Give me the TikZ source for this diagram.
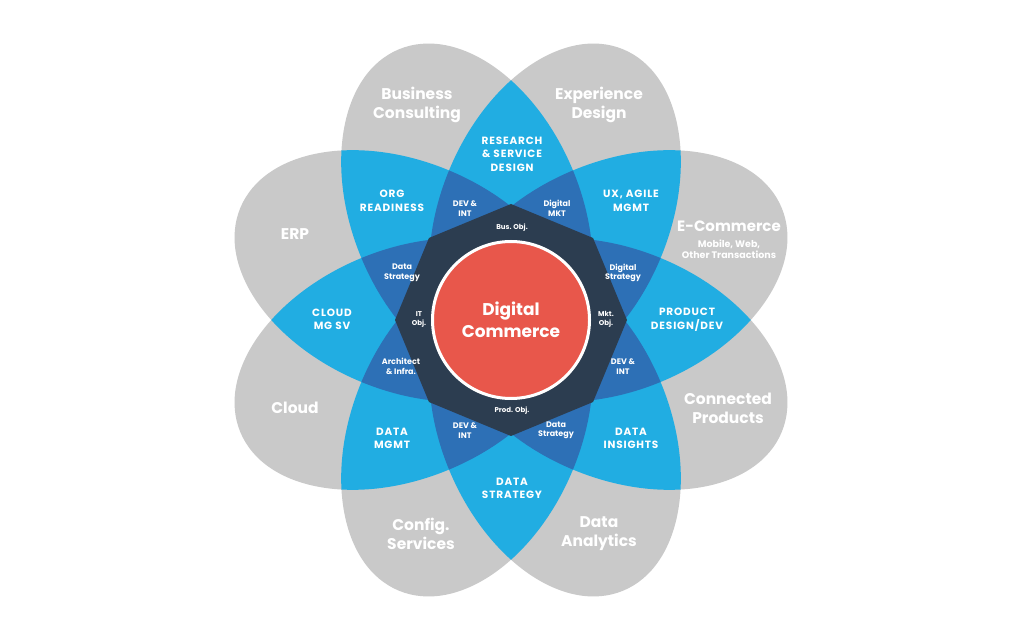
\documentclass[tikz,border=0pt]{standalone}
\usepackage{fontspec}
\setmainfont{Poppins}
\definecolor{greyc}{HTML}{C9C9C9}
\definecolor{lightc}{HTML}{21ADE2}
\definecolor{midc}{HTML}{2D70B6}
\definecolor{navyc}{HTML}{2C3D50}
\definecolor{redc}{HTML}{E8574B}
\tikzset{
  petal/.style={rotate around={#1:(511,320)}},
  outer/.style={text=white, align=center, inner sep=0pt, font=\fontsize{15.5}{19}\selectfont\bfseries},
  sub/.style={text=white, align=center, inner sep=0pt, font=\fontsize{9.5}{11}\selectfont\bfseries},
  lens/.style={text=white, align=center, inner sep=0pt, font=\fontsize{10.5}{13.5}\selectfont\bfseries\addfontfeature{LetterSpace=8}},
  mid/.style={text=white, align=center, inner sep=0pt, font=\fontsize{8}{9.5}\selectfont\bfseries},
  core/.style={text=white, align=center, inner sep=0pt, font=\fontsize{7}{9}\selectfont\bfseries},
}
\begin{document}
\begin{tikzpicture}[x=1pt,y=1pt]
\useasboundingbox (0,0) rectangle (1024,640);
\fill[white] (0,0) rectangle (1024,640);
% single petals
\foreach \i in {0,...,7} {
  \pgfmathsetmacro\pa{22.5+45*\i}
  \fill[greyc, petal=\pa] (626,320) ellipse [x radius=178pt, y radius=114.5pt];
}
% pairs
\foreach \i in {0,...,6} {
  \pgfmathtruncatemacro\s{\i+1}
  \foreach \j in {\s,...,7} {
    \begin{scope}
      \pgfmathsetmacro\pa{22.5+45*\i}
      \pgfmathsetmacro\pb{22.5+45*\j}
      \clip[petal=\pa] (626,320) ellipse [x radius=178pt, y radius=114.5pt];
      \fill[lightc, petal=\pb] (626,320) ellipse [x radius=178pt, y radius=114.5pt];
    \end{scope}
  }
}
% triples
\foreach \i in {0,...,5} {
  \pgfmathtruncatemacro\s{\i+1}
  \foreach \j in {\s,...,6} {
    \pgfmathtruncatemacro\t{\j+1}
    \foreach \k in {\t,...,7} {
      \begin{scope}
        \pgfmathsetmacro\pa{22.5+45*\i}
        \pgfmathsetmacro\pb{22.5+45*\j}
        \pgfmathsetmacro\pc{22.5+45*\k}
        \clip[petal=\pa] (626,320) ellipse [x radius=178pt, y radius=114.5pt];
        \clip[petal=\pb] (626,320) ellipse [x radius=178pt, y radius=114.5pt];
        \fill[midc, petal=\pc] (626,320) ellipse [x radius=178pt, y radius=114.5pt];
      \end{scope}
    }
  }
}
% navy octagon
\fill[navyc, shift={(511,320)}] (0:116pt) -- (45:116pt) -- (90:116pt) -- (135:116pt)
  -- (180:116pt) -- (225:116pt) -- (270:116pt) -- (315:116pt) -- cycle;
% centre
\node[circle, fill=redc, draw=white, line width=3pt, minimum size=157pt, inner sep=0pt,
  text=white, align=center, font=\fontsize{17}{22}\selectfont\bfseries] (dc) at (511,320) {Digital\\Commerce};
% outer labels
\node[outer] (bc) at (417,535.5) {Business\\Consulting};
\node[outer] (ed) at (599,535.5) {Experience\\Design};
\node[outer] (erp) at (295,406) {ERP};
\node[outer, font=\fontsize{15}{19}\selectfont\bfseries] (ecom) at (729,414) {E-Commerce};
\node[sub] (ecsub) at (729,390.5) {Mobile, Web,\\Other Transactions};
\node[outer] (cp) at (728,231.5) {Connected\\Products};
\node[outer] (cloud) at (295,232) {Cloud};
\node[outer] (cs) at (421,106.5) {Config.\\Services};
\node[outer] (da) at (599,106.5) {Data\\Analytics};
% lens labels
\node[lens] (rsd) at (512,486) {RESEARCH\\\& SERVICE\\DESIGN};
\node[lens] (org) at (392,439) {ORG\\READINESS};
\node[lens] (ux) at (631,439) {UX, AGILE\\MGMT};
\node[lens] (cmg) at (332,320.5) {CLOUD\\MG SV};
\node[lens] (pdd) at (687,320.5) {PRODUCT\\DESIGN/DEV};
\node[lens] (dmg) at (392,201.5) {DATA\\MGMT};
\node[lens] (din) at (631,201.5) {DATA\\INSIGHTS};
\node[lens] (dst) at (512,151.5) {DATA\\STRATEGY};
% middle labels
\node[mid] (m1) at (465,431.5) {DEV \&\\INT};
\node[mid] (m2) at (557,431.5) {Digital\\MKT};
\node[mid] (m3) at (402,367) {Data\\Strategy};
\node[mid] (m4) at (623,367) {Digital\\Strategy};
\node[mid] (m5) at (401,273.5) {Architect\\\& Infra.};
\node[mid] (m6) at (623,273.5) {DEV \&\\INT};
\node[mid] (m7) at (465,209.5) {DEV \&\\INT};
\node[mid] (m8) at (556,209.5) {Data\\Strategy};
% core labels
\node[core] (bo) at (512,412) {Bus. Obj.};
\node[core] (ito) at (419,320.5) {IT\\Obj.};
\node[core] (mo) at (606,320.5) {Mkt.\\Obj.};
\node[core] (po) at (512,229) {Prod. Obj.};
\end{tikzpicture}
\end{document}
